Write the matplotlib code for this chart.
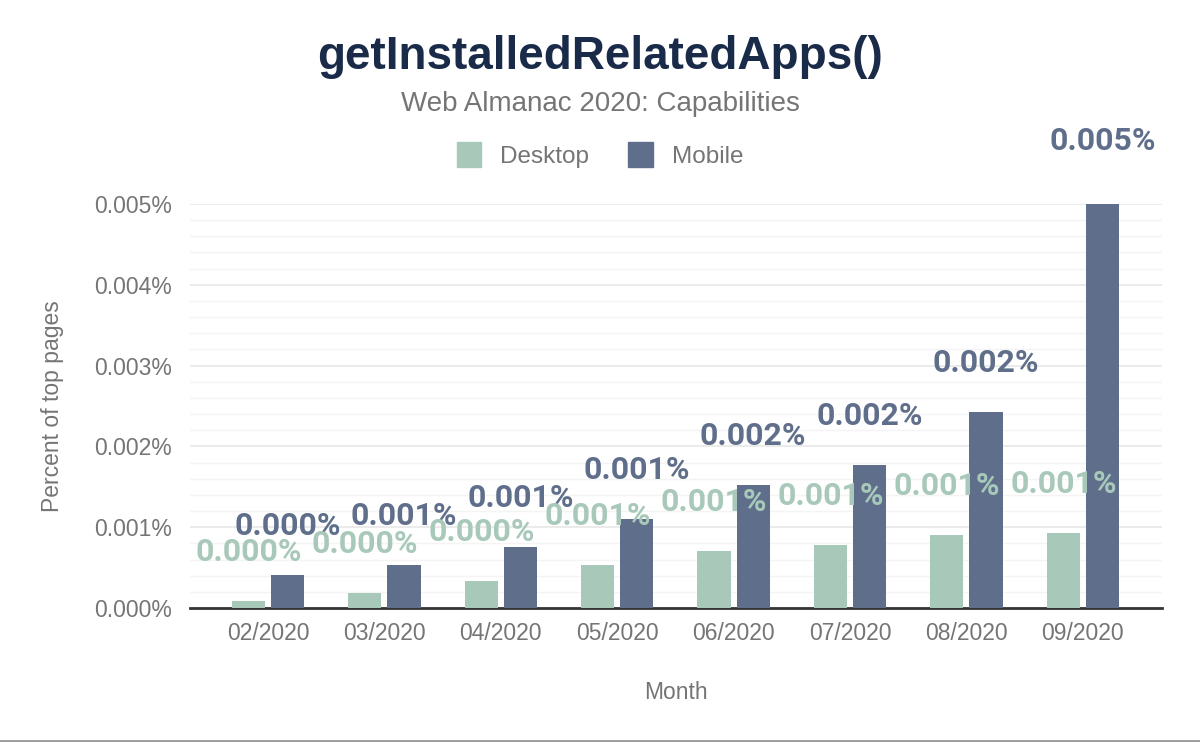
import matplotlib
matplotlib.use("Agg")
import matplotlib.pyplot as plt
from matplotlib.lines import Line2D
from matplotlib.ticker import MultipleLocator, FuncFormatter
import numpy as np

months = ["02/2020", "03/2020", "04/2020", "05/2020", "06/2020", "07/2020", "08/2020", "09/2020"]
desktop = [0.00009, 0.00019, 0.00033, 0.00053, 0.00071, 0.00078, 0.00090, 0.00093]
mobile = [0.00041, 0.00053, 0.00075, 0.00110, 0.00152, 0.00177, 0.00243, 0.00500]

desk_color = "#a8c9b9"
mob_color = "#5f6f8b"
gray = "#757575"

fig = plt.figure(figsize=(12, 7.42), dpi=100)
ax = fig.add_axes([190 / 1200, 134 / 742, 972 / 1200, 404 / 742])

x = np.arange(len(months))
w = 0.285
off = 0.168
ax.bar(x - off, desktop, width=w, color=desk_color, zorder=3)
ax.bar(x + off, mobile, width=w, color=mob_color, zorder=3)

# value labels above bars (they overlap in the original too)
for i in range(len(months)):
    ax.annotate(f"{desktop[i]:.3f}%", (x[i] - off, desktop[i]), xytext=(0, 49),
                textcoords="offset pixels", ha="center", va="center",
                fontsize=23, fontweight="bold", family="Roboto", color=desk_color,
                annotation_clip=False, zorder=4)
    extra = 14 if i == len(months) - 1 else 0
    ax.annotate(f"{mobile[i]:.3f}%", (x[i] + off, mobile[i]), xytext=(0, 49 + extra),
                textcoords="offset pixels", ha="center", va="center",
                fontsize=23, fontweight="bold", family="Roboto", color=mob_color,
                annotation_clip=False, zorder=4)

ax.set_xlim(-0.67, 7.68)
ax.set_ylim(0, 0.005)
ax.yaxis.set_major_locator(MultipleLocator(0.001))
ax.yaxis.set_minor_locator(MultipleLocator(0.0002))
ax.yaxis.set_major_formatter(FuncFormatter(lambda v, p: f"{v:.3f}%"))
ax.grid(axis="y", which="major", color="#e8e8e8", linewidth=1.2, zorder=0)
ax.grid(axis="y", which="minor", color="#f4f4f4", linewidth=1.0, zorder=0)
ax.set_axisbelow(True)

ax.set_xticks(x)
ax.set_xticklabels(months)
for s in ["top", "right", "left"]:
    ax.spines[s].set_visible(False)
ax.spines["bottom"].set_color("#333333")
ax.spines["bottom"].set_linewidth(2)
ax.tick_params(axis="both", which="both", length=0, labelsize=16.5, labelcolor=gray,
               labelfontfamily="Liberation Sans")
ax.tick_params(axis="x", pad=10)
ax.tick_params(axis="y", pad=13)

ax.set_ylabel("Percent of top pages", fontsize=16.5, color=gray, family="Liberation Sans", labelpad=22)
ax.set_xlabel("Month", fontsize=16.5, color=gray, family="Liberation Sans", labelpad=26)

fig.text(0.5, 1 - 57 / 742, "getInstalledRelatedApps()", ha="center", va="center",
         fontsize=33, fontweight="bold", family="Liberation Sans", color="#1a2b49")
fig.text(0.5, 1 - 104 / 742, "Web Almanac 2020: Capabilities", ha="center", va="center",
         fontsize=20, family="Liberation Sans", color=gray)

handles = [plt.Rectangle((0, 0), 1, 1, color=desk_color), plt.Rectangle((0, 0), 1, 1, color=mob_color)]
leg = fig.legend(handles, ["Desktop", "Mobile"], loc="center", bbox_to_anchor=(0.5, 1 - 155 / 742),
                 ncol=2, frameon=False, handlelength=1.0, handleheight=1.2, columnspacing=1.6,
                 handletextpad=0.8, prop={"family": "Liberation Sans", "size": 17.5})
for t in leg.get_texts():
    t.set_color(gray)

fig.add_artist(Line2D([0, 1], [1.5 / 742, 1.5 / 742], color="#999999", linewidth=2))

fig.savefig("out.png", dpi=100)
